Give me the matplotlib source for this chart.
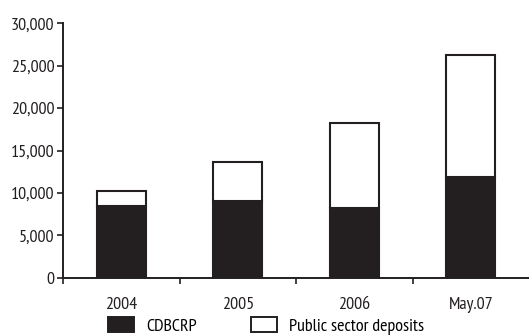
import matplotlib
matplotlib.use("Agg")
import matplotlib.pyplot as plt
from matplotlib.ticker import FuncFormatter, FixedLocator
from matplotlib.patches import Patch
import numpy as np

categories = ["2004", "2005", "2006", "May.07"]
cdbcrp = [8400, 9000, 8200, 11850]
public_deposits = [1850, 4700, 10100, 14400]

plt.rcParams['font.family'] = ['PT Sans Narrow', 'DejaVu Sans']
ink = '#231f20'
fs = 13

fig = plt.figure(figsize=(5.29, 3.35), dpi=100)
ax = fig.add_axes([63 / 529, 1 - 277.7 / 335, 466 / 529, (277.7 - 23.3) / 335])

x = np.arange(len(categories))
w = 0.42
ax.bar(x, cdbcrp, w, color=ink, edgecolor=ink, linewidth=1.5, label='CDBCRP')
ax.bar(x, public_deposits, w, bottom=cdbcrp, color='white', edgecolor=ink,
       linewidth=1.5, label='Public sector deposits')

ax.set_xlim(-0.5, 3.5)
ax.set_ylim(0, 30000)
ax.set_yticks(range(0, 30001, 5000))
ax.yaxis.set_major_formatter(FuncFormatter(lambda v, p: f"{int(v):,}"))
ax.set_xticks(x)
ax.set_xticklabels(categories)
ax.xaxis.set_minor_locator(FixedLocator([-0.5, 0.5, 1.5, 2.5]))

for s in ['top', 'right']:
    ax.spines[s].set_visible(False)
for s in ['left', 'bottom']:
    ax.spines[s].set_linewidth(1.4)
    ax.spines[s].set_color(ink)

ax.tick_params(axis='y', length=4, width=1.2, color=ink, pad=2, labelsize=fs, labelcolor=ink)
ax.tick_params(axis='x', which='major', length=0, pad=14, labelsize=fs, labelcolor=ink)
ax.tick_params(axis='x', which='minor', length=4, width=1.2, color=ink, direction='out')

handles = [Patch(facecolor=ink, edgecolor=ink, linewidth=1.4),
           Patch(facecolor='white', edgecolor=ink, linewidth=1.4)]
fig.legend(handles, ['CDBCRP', 'Public sector deposits'], loc='center left',
           bbox_to_anchor=(108 / 529, 1 - 326 / 335), ncol=2, frameon=False,
           fontsize=fs, handlelength=1.45, handleheight=0.85, handletextpad=0.65,
           columnspacing=3.0, borderpad=0, borderaxespad=0)

fig.savefig('out.png', dpi=100)
